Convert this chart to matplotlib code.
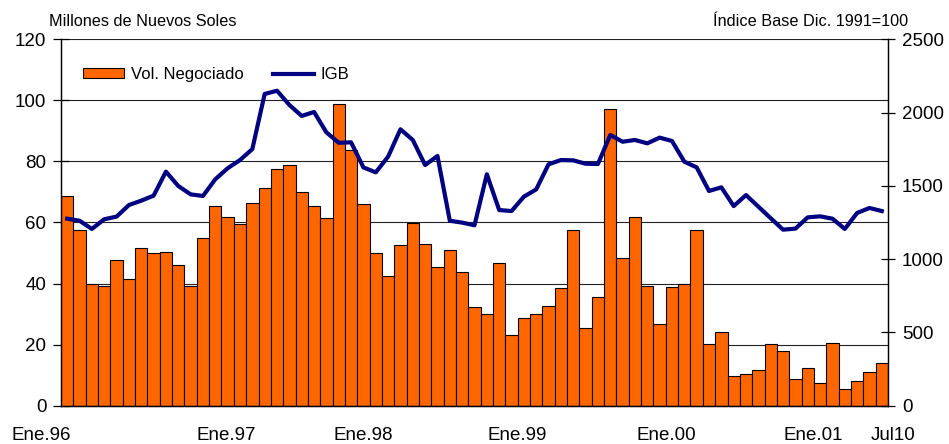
import numpy as np
import matplotlib
matplotlib.use("Agg")
import matplotlib.pyplot as plt
import matplotlib.transforms as mtransforms

plt.rcParams['font.family'] = ['Liberation Sans', 'DejaVu Sans']

# Volumen negociado mensual (millones de nuevos soles), Ene.96 - Jul.01
volumen = [68.6, 57.4, 40.0, 39.3, 47.8, 41.4, 51.8, 50.0, 50.3, 46.0, 39.3, 55.0,
           65.5, 61.9, 59.5, 66.5, 71.2, 77.6, 78.9, 70.0, 65.5, 61.6, 98.8, 83.8,
           66.2, 50.0, 42.4, 52.5, 59.9, 52.9, 45.3, 51.0, 43.9, 32.3, 29.9, 46.8,
           23.2, 28.8, 29.9, 32.8, 38.4, 57.4, 25.3, 35.7, 97.1, 48.5, 61.9, 39.2,
           26.6, 38.8, 40.0, 57.4, 20.2, 24.1, 9.7, 10.5, 11.6, 20.2, 18.0, 8.6,
           12.2, 7.5, 20.5, 5.5, 8.0, 11.1, 14.1]

# Indice General de la Bolsa (base Dic. 1991 = 100)
igb = [1276, 1262, 1206, 1272, 1290, 1369, 1399, 1433, 1597, 1499, 1442, 1431,
       1545, 1620, 1676, 1751, 2127, 2149, 2052, 1977, 2004, 1865, 1794, 1797,
       1626, 1592, 1699, 1886, 1813, 1642, 1704, 1262, 1249, 1231, 1579, 1335,
       1328, 1426, 1476, 1647, 1676, 1674, 1651, 1649, 1847, 1801, 1813, 1790,
       1829, 1806, 1665, 1626, 1465, 1490, 1362, 1437, 1358, 1279, 1201, 1208,
       1285, 1292, 1276, 1206, 1315, 1349, 1328]

etiquetas = ['Ene.96', 'Ene.97', 'Ene.98', 'Ene.99', 'Ene.00', 'Ene.01', 'Jul10']
pos_etiquetas = [-2.1, 12.9, 24.0, 36.45, 48.55, 60.45, 66.9]

x = np.arange(len(volumen))

fig = plt.figure(figsize=(9.49, 4.44), dpi=100)
ax = fig.add_axes([0.0643, 0.0863, 0.8714, 0.8252])
ax2 = ax.twinx()

# Barras
ax.bar(x, volumen, width=1.0, color='#FF6600', edgecolor='black', linewidth=0.8,
       label='Vol. Negociado', zorder=2)
ax.set_xlim(-0.5, len(volumen) - 0.5)
ax.set_ylim(0, 120)
ax.set_yticks(range(0, 121, 20))
ax.set_axisbelow(True)
for v in range(20, 121, 20):
    ax.axhline(v, color='#222222', linewidth=0.8, zorder=0)

# Linea IGB
ax2.plot(x, igb, color='#000080', linewidth=3.0, label='IGB', zorder=3)
ax2.set_ylim(0, 2500)
ax2.set_yticks(range(0, 2501, 500))

for a in (ax, ax2):
    a.set_xticks([])
    a.spines['top'].set_visible(False)
    for s in a.spines.values():
        s.set_linewidth(0.9)
ax.tick_params(axis='y', direction='inout', length=11, width=0.9, labelsize=13.5, pad=5)
ax2.tick_params(axis='y', direction='inout', length=10, width=0.9, labelsize=13.5, pad=5)

# Etiquetas del eje x
trans = mtransforms.blended_transform_factory(ax.transData, ax.transAxes)
for p, t in zip(pos_etiquetas, etiquetas):
    ax.text(p, -0.082, t, transform=trans, ha='center', va='center',
            fontsize=13.5, clip_on=False)

# Textos superiores
fig.text(0.052, 0.951, 'Millones de Nuevos Soles', ha='left', va='center', fontsize=11.7)
fig.text(0.957, 0.951, 'Índice Base Dic. 1991=100', ha='right', va='center', fontsize=11.7)

# Leyenda
h1, l1 = ax.get_legend_handles_labels()
h2, l2 = ax2.get_legend_handles_labels()
ax2.legend(h1 + h2, l1 + l2, loc='upper left', bbox_to_anchor=(0.0085, 0.965), ncol=2,
           frameon=False, fontsize=12, handlelength=2.45, handleheight=0.55,
           columnspacing=1.8, handletextpad=0.4)

fig.savefig('out.png', dpi=100)
